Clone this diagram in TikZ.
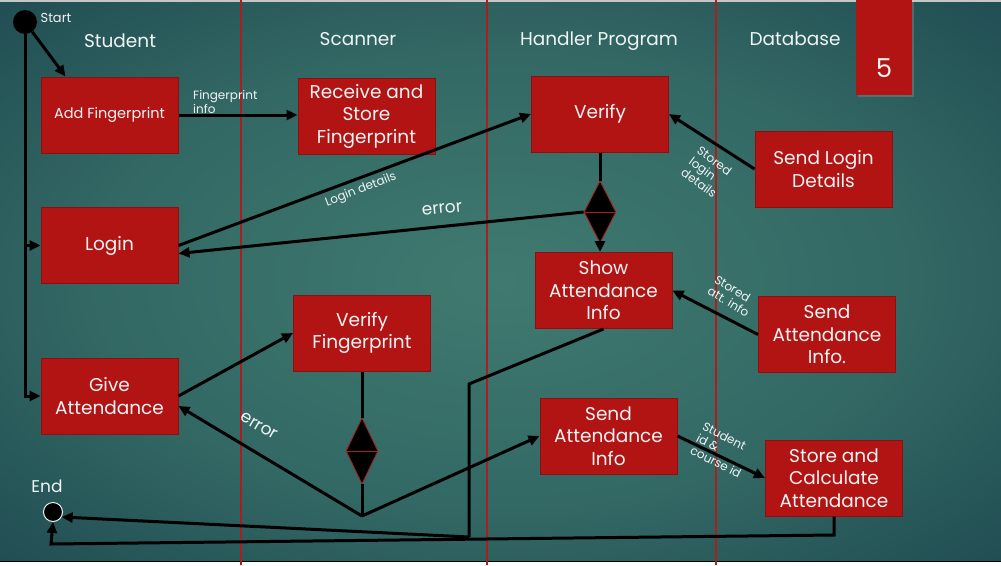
\documentclass[tikz,border=0pt]{standalone}
\usepackage{fontspec}
\setmainfont{Poppins}
\usepackage{tikz}
\usetikzlibrary{shapes.geometric,arrows.meta,calc,shadows}

\definecolor{bgmid}{RGB}{63,122,112}
\definecolor{bgedge}{RGB}{15,52,66}
\definecolor{lane}{RGB}{170,30,30}
\definecolor{boxred}{RGB}{178,20,20}
\definecolor{boxline}{RGB}{140,16,16}
\definecolor{txt}{RGB}{240,244,244}

\pgfdeclareradialshading{bgglow}{\pgfpoint{0bp}{0bp}}{color(0bp)=(bgmid); color(20bp)=(bgmid!75!bgedge); color(50bp)=(bgedge)}

\begin{document}
\begin{tikzpicture}[x=1pt,y=-1pt,
  act/.style={draw=boxline,line width=1pt,fill=boxred,text=txt,align=center,
    minimum width=137pt,minimum height=76pt,inner sep=2pt,font=\fontsize{18.5}{22.5}\selectfont},
  dec/.style={diamond,draw=lane,line width=0.8pt,fill=black,inner sep=0pt,minimum width=32pt,minimum height=62pt},
  flow/.style={line width=3pt,black},
  arr/.style={flow,-{Triangle[length=11pt,width=10pt]}},
  lanetitle/.style={text=txt,font=\fontsize{18.5}{22}\selectfont},
  note/.style={text=txt,align=left,font=\fontsize{12}{13.5}\selectfont,inner sep=0pt},
  errtext/.style={text=txt,font=\fontsize{17}{20}\selectfont,inner sep=0pt}]

\useasboundingbox (0,0) rectangle (1001,565);

% background
\shade[shading=bgglow] (0,0) rectangle (1001,561);
\fill[gray!45] (0,0) rectangle (1001,1.5);
\fill[white] (0,561) rectangle (1001,565);
\draw[black,line width=1pt] (0,561) -- (1001,561);

% swim lanes
\foreach \x in {241,487,716}
  \draw[lane,line width=2pt] (\x,0) -- (\x,565);

\node[fill=boxred,drop shadow={opacity=0.5,shadow xshift=2pt,shadow yshift=-2pt},
  minimum width=56pt,minimum height=95pt,inner sep=0pt] (slideno) at (884,47) {};
\node[text=txt,font=\fontsize{26}{30}\selectfont] (slidenum) at (884,68) {5};

\node[lanetitle] (tstudent) at (120,41) {Student};
\node[lanetitle] (tscanner) at (358,39) {Scanner};
\node[lanetitle] (thandler) at (599,41) {Handler Program};
\node[lanetitle] (tdb) at (795,39) {Database};

% start / end
\node[circle,fill=black,minimum size=24pt,inner sep=0pt] (start) at (25,22) {};
\node[text=txt,font=\fontsize{13}{15}\selectfont] (lstart) at (56,18) {Start};
\node[circle,fill=black,draw=txt,line width=1pt,minimum size=19pt,inner sep=0pt] (endn) at (53,512) {};
\node[text=txt,font=\fontsize{17}{20}\selectfont] (lend) at (47,486) {End};

% activities
\node[act,font=\fontsize{14.5}{18}\selectfont] (addfp) at (109.5,115) {Add Fingerprint};
\node[act] (login) at (109.5,245.5) {Login};
\node[act] (giveatt) at (109.5,396) {Give\\Attendance};
\node[act] (recv) at (366.5,116) {Receive and\\Store\\Fingerprint};
\node[act] (verfp) at (362,333) {Verify\\Fingerprint};
\node[act] (verify) at (600,114) {Verify};
\node[act] (showatt) at (603.5,290.5) {Show\\Attendance\\Info};
\node[act] (sendatth) at (608.5,436) {Send\\Attendance\\Info};
\node[act] (sendlogin) at (823.5,169) {Send Login\\Details};
\node[act] (sendattdb) at (827,334.5) {Send\\Attendance\\Info.};
\node[act] (storecalc) at (834,478) {Store and\\Calculate\\Attendance};

% decisions
\node[dec] (dtop) at (600,212) {};
\node[dec,minimum height=66pt] (dbot) at (362,451) {};

\coordinate (jerr) at (362,516);
\coordinate (jbend) at (469,384);
\coordinate (jdown) at (469,537);
\coordinate (jstore) at (834,535);
\coordinate (jleft) at (51,544);

% flows
\draw[arr] (start) -- ($(addfp.north west)+(25,0)$);
\draw[arr] (start) |- (giveatt.west);
\draw[arr] (start |- login.west) -- (login.west);
\draw[arr] (addfp.east) -- (addfp.east -| recv.west);
\draw[arr] (login.east) -- (verify.west);
\draw[flow] (verify.south) -- (dtop.north);
\draw[arr] (dtop) -- (dtop |- showatt.north);
\draw[arr] (dtop.west) -- ($(login.east)+(0,8)$);
\draw[lane,line width=0.8pt] (dtop.west) -- (dtop.east);
\draw[arr] (sendlogin.west) -- (verify.east);
\draw[arr] (sendattdb.west) -- (showatt.east);
\draw[arr] (giveatt.east) -- (verfp.west);
\draw[flow] (verfp.south) -- (dbot.north);
\draw[lane,line width=0.8pt] (dbot.west) -- (dbot.east);
\draw[flow] (dbot.south) -- (jerr);
\draw[arr] (jerr) -- ($(giveatt.east)+(0,10)$);
\draw[arr] (jerr) -- (sendatth.west);
\draw[flow] (showatt.south) -- (jbend) -- (jdown);
\draw[arr] (jdown) -- (endn.-30);
\draw[arr] (sendatth.east) -- (storecalc.west);
\draw[arr] (storecalc.south) -- (jstore) -- (jleft) -- (endn.south);

% labels
\node[note,anchor=west] (lfp) at (193,102) {Fingerprint\\info};
\node[note,rotate=21] (llogin) at (361,190) {Login details};
\node[errtext,rotate=6] (lerr1) at (442,209) {error};
\node[note,rotate=-36] (lstlogin) at (707,172) {Stored\\login\\details};
\node[note,rotate=-31] (lstatt) at (732,296) {Stored\\att. info};
\node[note,rotate=-27] (lsid) at (722,450) {Student\\id \&\\course id};
\node[errtext,rotate=-30] (lerr2) at (259,426) {error};

\end{tikzpicture}
\end{document}
